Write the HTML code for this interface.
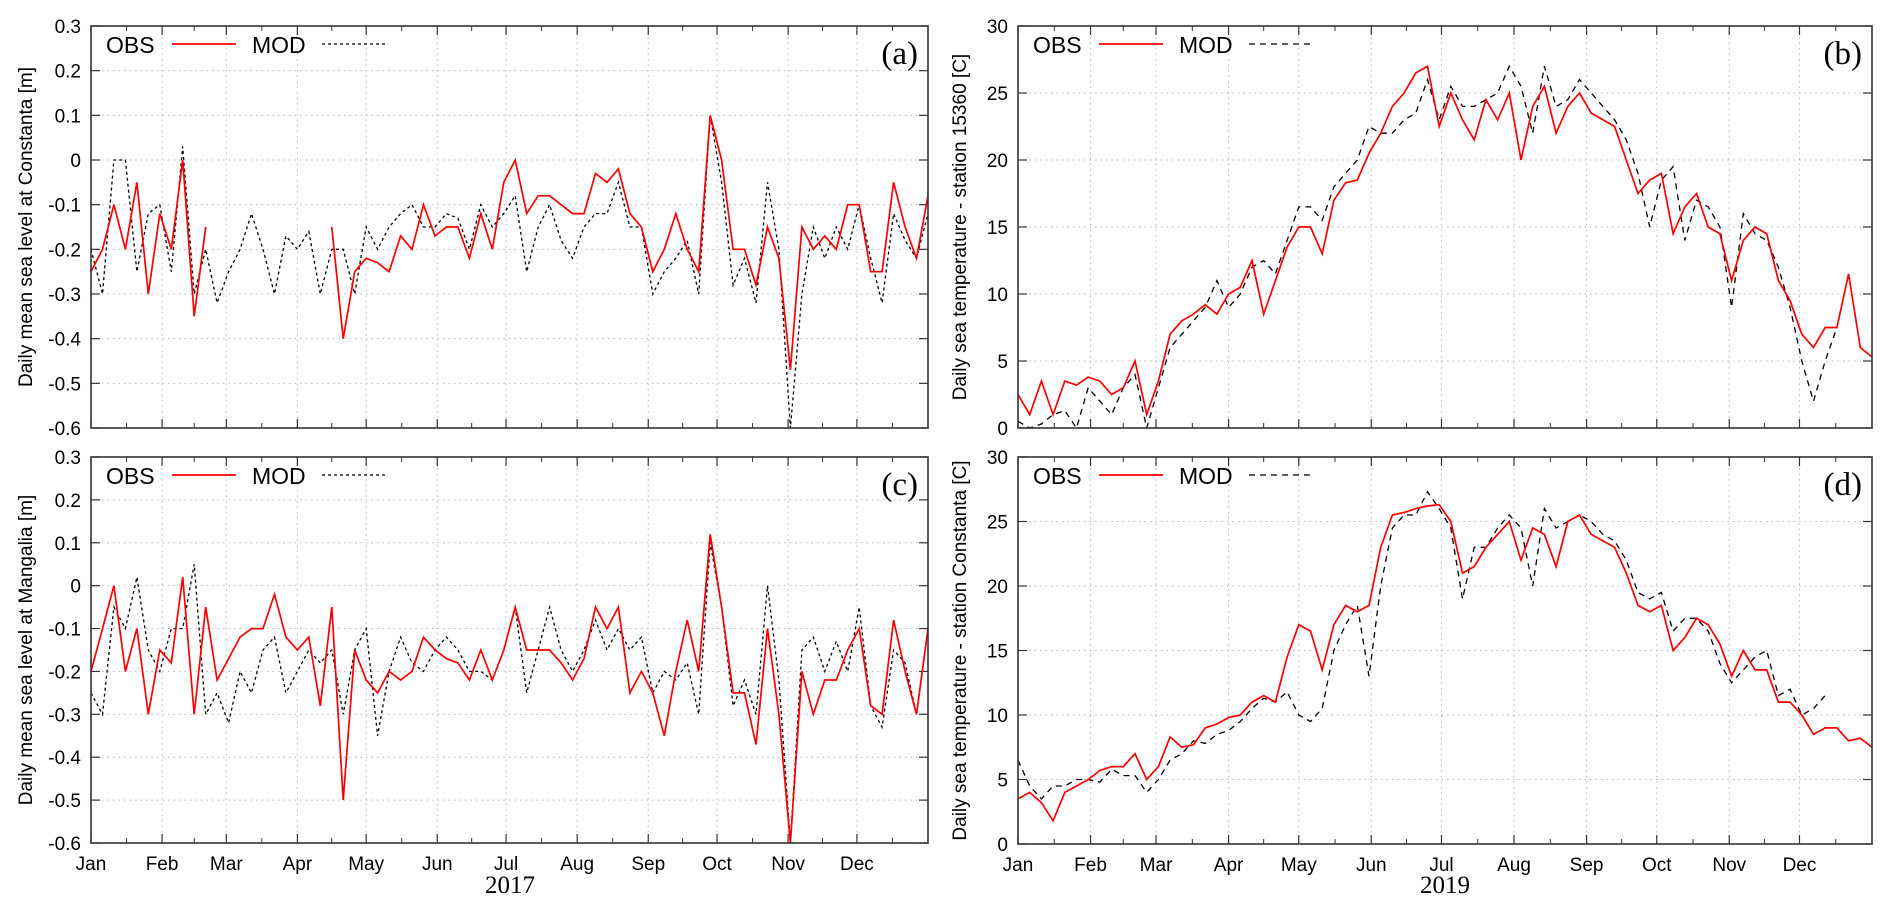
<!DOCTYPE html>
<html><head><meta charset="utf-8"><style>
body{margin:0;background:#fff}
svg{display:block}
text{font-family:"Liberation Sans",sans-serif;fill:#000}
.serif{font-family:"Liberation Serif",serif}
</style></head><body>
<svg id="chart" width="1892" height="914" viewBox="0 0 1892 914" xmlns="http://www.w3.org/2000/svg"></svg>
<script>
// sample days (every 5 days, last = 365)
const days = [0,5,10,15,20,25,30,35,40,45,50,55,60,65,70,75,80,85,90,95,100,105,110,115,120,125,130,135,140,145,150,155,160,165,170,175,180,185,190,195,200,205,210,215,220,225,230,235,240,245,250,255,260,265,270,275,280,285,290,295,300,305,310,315,320,325,330,335,340,345,350,355,360,365];
const monthLabels = ["Jan","Feb","Mar","Apr","May","Jun","Jul","Aug","Sep","Oct","Nov","Dec"];
const monthStarts = [0,31,59,90,120,151,181,212,243,273,304,334];
const ticksSea = [0.3,0.2,0.1,0,-0.1,-0.2,-0.3,-0.4,-0.5,-0.6];
const tickSeaLabels = ["0.3","0.2","0.1","0","-0.1","-0.2","-0.3","-0.4","-0.5","-0.6"];
const ticksTemp = [0,5,10,15,20,25,30];
const N = null;
const obsA = [-0.25,-0.2,-0.1,-0.2,-0.05,-0.3,-0.12,-0.2,0.0,-0.35,-0.15,N,N,N,N,N,N,N,N,N,N,-0.15,-0.4,-0.25,-0.22,-0.23,-0.25,-0.17,-0.2,-0.1,-0.17,-0.15,-0.15,-0.22,-0.12,-0.2,-0.05,0.0,-0.12,-0.08,-0.08,-0.1,-0.12,-0.12,-0.03,-0.05,-0.02,-0.12,-0.15,-0.25,-0.2,-0.12,-0.2,-0.25,0.1,0.0,-0.2,-0.2,-0.28,-0.15,-0.22,-0.47,-0.15,-0.2,-0.17,-0.2,-0.1,-0.1,-0.25,-0.25,-0.05,-0.15,-0.22,-0.08];
const modA = [-0.2,-0.3,0.0,0.0,-0.25,-0.12,-0.1,-0.25,0.03,-0.3,-0.2,-0.32,-0.25,-0.2,-0.12,-0.2,-0.3,-0.17,-0.2,-0.16,-0.3,-0.2,-0.2,-0.3,-0.15,-0.2,-0.15,-0.12,-0.1,-0.15,-0.15,-0.12,-0.13,-0.2,-0.1,-0.15,-0.12,-0.08,-0.25,-0.15,-0.1,-0.18,-0.22,-0.15,-0.12,-0.12,-0.05,-0.15,-0.15,-0.3,-0.25,-0.22,-0.18,-0.3,0.1,-0.05,-0.28,-0.22,-0.32,-0.05,-0.2,-0.6,-0.3,-0.15,-0.22,-0.15,-0.2,-0.1,-0.22,-0.32,-0.12,-0.18,-0.22,-0.12];
const obsC = [-0.2,-0.1,0.0,-0.2,-0.1,-0.3,-0.15,-0.18,0.02,-0.3,-0.05,-0.22,-0.17,-0.12,-0.1,-0.1,-0.02,-0.12,-0.15,-0.12,-0.28,-0.05,-0.5,-0.15,-0.22,-0.25,-0.2,-0.22,-0.2,-0.12,-0.15,-0.17,-0.18,-0.22,-0.15,-0.22,-0.15,-0.05,-0.15,-0.15,-0.15,-0.18,-0.22,-0.17,-0.05,-0.1,-0.05,-0.25,-0.2,-0.25,-0.35,-0.2,-0.08,-0.2,0.12,-0.05,-0.25,-0.25,-0.37,-0.1,-0.3,-0.6,-0.2,-0.3,-0.22,-0.22,-0.15,-0.1,-0.28,-0.3,-0.08,-0.2,-0.3,-0.1];
const modC = [-0.25,-0.3,-0.05,-0.1,0.02,-0.15,-0.2,-0.1,-0.1,0.05,-0.3,-0.25,-0.32,-0.2,-0.25,-0.15,-0.12,-0.25,-0.2,-0.15,-0.18,-0.15,-0.3,-0.15,-0.1,-0.35,-0.2,-0.12,-0.18,-0.2,-0.15,-0.12,-0.15,-0.2,-0.2,-0.22,-0.15,-0.05,-0.25,-0.15,-0.05,-0.15,-0.2,-0.15,-0.08,-0.15,-0.1,-0.15,-0.12,-0.25,-0.2,-0.22,-0.18,-0.3,0.1,-0.05,-0.28,-0.22,-0.3,0.0,-0.22,-0.6,-0.15,-0.12,-0.2,-0.13,-0.2,-0.05,-0.28,-0.33,-0.15,-0.18,-0.3,-0.1];
const obsB = [2.5,1,3.5,1,3.5,3.2,3.8,3.5,2.5,3,5,1,3.5,7,8,8.5,9.2,8.5,10,10.5,12.5,8.5,11,13.5,15,15,13,17,18.3,18.5,20.5,22,24,25,26.5,27,22.5,25,23,21.5,24.5,23,25,20,24,25.5,22,24,25,23.5,23,22.5,20,17.5,18.5,19,14.5,16.5,17.5,15,14.5,11,14,15,14.5,11,9.5,7,6,7.5,7.5,11.5,6,5.3];
const modB = [0.5,0,0.3,1,1.3,0,3,2,1,3,4,0,3,6,7,8,9,11,9,10,12,12.5,11.5,14,16.5,16.5,15.5,18,19,20,22.5,22,22,23,23.5,26,23,25.5,24,24,24.5,25,27,25.5,22,27,24,24.5,26,25,24,23,21.5,19,15,18.5,19.5,14,17,16.5,15,9,16,14.5,14,12,9,5,2,5,7.5,N,N,N];
const obsD = [3.5,4,3.2,1.8,4,4.5,5,5.7,6,6,7,5,6,8.3,7.5,7.7,9,9.3,9.8,10,11,11.5,11,14.5,17,16.5,13.5,17,18.5,18,18.5,23,25.5,25.7,26,26.2,26.3,25,21,21.5,23,24,25,22,24.5,24,21.5,25,25.5,24,23.5,23,21,18.5,18,18.5,15,16,17.5,17,15.5,13,15,13.5,13.5,11,11,10,8.5,9,9,8,8.2,7.5];
const modD = [6.5,4.5,3.5,4.5,4.5,5,5,4.8,5.8,5.3,5.3,4,5,6.5,7,8,7.8,8.5,8.8,9.5,10.5,11.3,11,11.8,10,9.5,10.5,15,17,18.5,13,20,24.5,25.5,25.5,27.3,26,24.5,19,23,23,24.5,25.5,24.5,20,26,24.5,25,25.5,25,24,23.5,22,19.5,19,19.5,16.5,17.5,17.5,16.5,14,12.5,13.5,14.5,15,11.5,12,10,10.5,11.5,N,N,N,N];

const svg = document.getElementById('chart');
const NS = 'http://www.w3.org/2000/svg';
function mk(tag, attrs, parent){ const e=document.createElementNS(NS,tag); for(const k in attrs) e.setAttribute(k,attrs[k]); (parent||svg).appendChild(e); return e; }

function panel(o){
  const g = mk('g',{});
  
  
  const L=o.l,R=o.r,T=o.t,B=o.b;
  const xs = d => L + d/365*(R-L);
  const ys = v => B - (v-o.ymin)/(o.ymax-o.ymin)*(B-T);
  o.ticks.forEach((v,i)=>{
    const y=ys(v);
    if(i>0 && i<o.ticks.length-1){ const gl=mk('line',{x1:L,x2:R,y1:y,y2:y,stroke:'#bbb','stroke-width':1,'stroke-dasharray':'1.5 4'},g);
        }
    mk('line',{x1:L,x2:L+9,y1:y,y2:y,stroke:'#333','stroke-width':1.2},g);
    mk('line',{x1:R-9,x2:R,y1:y,y2:y,stroke:'#333','stroke-width':1.2},g);
    const t=mk('text',{x:L-10,y:y+7,'text-anchor':'end','font-size':19},g); t.textContent=o.labels[i];
     
  });
  monthStarts.forEach((d,i)=>{
    const x=xs(d);
    if(i>0){ const gl=mk('line',{x1:x,x2:x,y1:T,y2:B,stroke:'#bbb','stroke-width':1,'stroke-dasharray':'1.5 4'},g);
        }
    mk('line',{x1:x,x2:x,y1:B,y2:B-9,stroke:'#333','stroke-width':1.2},g);
    mk('line',{x1:x,x2:x,y1:T,y2:T+9,stroke:'#333','stroke-width':1.2},g);
    const nx = i<11 ? monthStarts[i+1] : 365; const xm=xs((d+nx)/2);
    mk('line',{x1:xm,x2:xm,y1:B,y2:B-5,stroke:'#333','stroke-width':1},g);
    mk('line',{x1:xm,x2:xm,y1:T,y2:T+5,stroke:'#333','stroke-width':1},g);
    if(o.months){ const t=mk('text',{x:x,y:B+27,'text-anchor':'middle','font-size':19},g); t.textContent=monthLabels[i];
        }
  });
  function line(arr,attrs,nm){
    let d='',pen=false;
    arr.forEach((v,i)=>{ if(v===null){pen=false;return;} d+=(pen?'L':'M')+xs(days[i]).toFixed(1)+' '+ys(Math.max(o.ymin,v)).toFixed(1)+' '; pen=true; });
    const p=mk('path',Object.assign({d:d,fill:'none'},attrs),g);
    
    
  }
  line(o.mod,{stroke:'#000','stroke-width':1.3,'stroke-dasharray':o.dash},'mod-line');
  line(o.obs,{stroke:'#f00','stroke-width':1.7},'obs-line');
  const fr=mk('rect',{x:L,y:T,width:R-L,height:B-T,fill:'none',stroke:'#333','stroke-width':1.6},g);
   
  const ly=T+18;
  let t=mk('text',{x:L+15,y:ly+9,'font-size':23},g); t.textContent='OBS';
   
  let ln=mk('line',{x1:L+81,x2:L+145,y1:ly,y2:ly,stroke:'#f00','stroke-width':1.8},g);
   
  t=mk('text',{x:L+161,y:ly+9,'font-size':23},g); t.textContent='MOD';
   
  ln=mk('line',{x1:L+231,x2:L+296,y1:ly,y2:ly,stroke:'#000','stroke-width':1.3,'stroke-dasharray':o.dash},g);
   
  t=mk('text',{x:R-10,y:T+38,'text-anchor':'end','font-size':33,'class':'serif'},g); t.textContent=o.tag;
   
  const cy=(T+B)/2;
  t=mk('text',{x:o.tx,y:cy,'text-anchor':'middle','font-size':19,transform:`rotate(-90 ${o.tx} ${cy})`},g); t.textContent=o.title;
   
}
panel({name:'panel-a',l:91,r:928,t:26,b:428,ymin:-0.6,ymax:0.3,ticks:ticksSea,labels:tickSeaLabels,obs:obsA,mod:modA,dash:'3 3',tag:'(a)',title:'Daily mean sea level at Constanta [m]',tx:32,months:false});
panel({name:'panel-c',l:91,r:928,t:457,b:843,ymin:-0.6,ymax:0.3,ticks:ticksSea,labels:tickSeaLabels,obs:obsC,mod:modC,dash:'3 3',tag:'(c)',title:'Daily mean sea level at Mangalia [m]',tx:32,months:true});
panel({name:'panel-b',l:1018,r:1872,t:26,b:428,ymin:0,ymax:30,ticks:ticksTemp,labels:ticksTemp.map(String),obs:obsB,mod:modB,dash:'6 5',tag:'(b)',title:'Daily sea temperature - station 15360 [C]',tx:966,months:false});
panel({name:'panel-d',l:1018,r:1872,t:457,b:844,ymin:0,ymax:30,ticks:ticksTemp,labels:ticksTemp.map(String),obs:obsD,mod:modD,dash:'6 5',tag:'(d)',title:'Daily sea temperature - station Constanta [C]',tx:966,months:true});
let yr=mk('text',{x:510,y:893,'text-anchor':'middle','font-size':25,'class':'serif'}); yr.textContent='2017';


yr=mk('text',{x:1445,y:893,'text-anchor':'middle','font-size':25,'class':'serif'}); yr.textContent='2019';


</script>
</body></html>
